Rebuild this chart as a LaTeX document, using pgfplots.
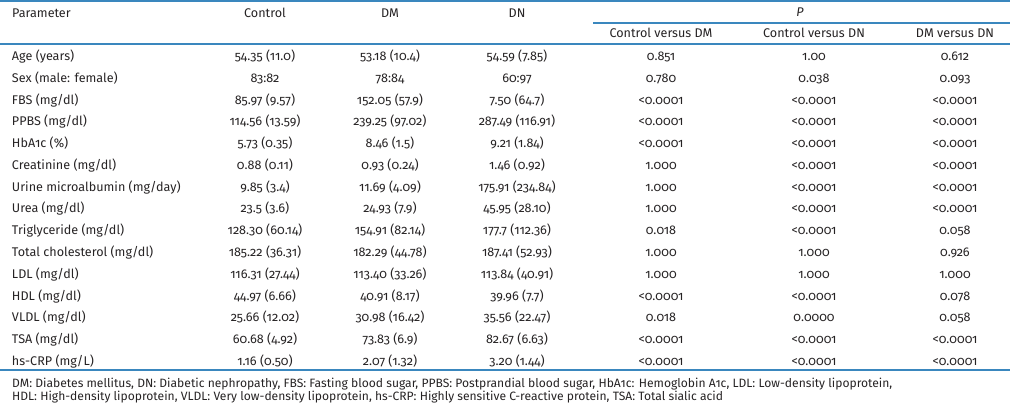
\documentclass[border=0pt]{standalone}
\usepackage{fontspec}
\setmainfont{Fira Sans}[Numbers=OldStyle]
\usepackage{pgfplots}
\usepackage{pgfplotstable}
\pgfplotsset{compat=1.18}
\definecolor{rulec}{HTML}{3A87BE}
\definecolor{txt}{HTML}{262324}
\newcommand{\tf}{\fontsize{12.6}{14}\selectfont}
\newcommand{\ff}{\fontsize{12.1}{14}\selectfont}

\pgfplotstableread[col sep=semicolon]{
y;param;control;dm;dn;pa;pb;pc
60.5;Age (years);54.35 (11.0);53.18 (10.4);54.59 (7.85);0.851;1.00;0.612
82.3;Sex (male: female);83:82;78:84;60:97;0.780;0.038;0.093
104.1;FBS (mg/dl);85.97 (9.57);152.05 (57.9);7.50 (64.7);<0.0001;<0.0001;<0.0001
125.9;PPBS (mg/dl);114.56 (13.59);239.25 (97.02);287.49 (116.91);<0.0001;<0.0001;<0.0001
147.7;HbA1c (\%);5.73 (0.35);8.46 (1.5);9.21 (1.84);<0.0001;<0.0001;<0.0001
169.4;Creatinine (mg/dl);0.88 (0.11);0.93 (0.24);1.46 (0.92);1.000;<0.0001;<0.0001
191.2;Urine microalbumin (mg/day);9.85 (3.4);11.69 (4.09);175.91 (234.84);1.000;<0.0001;<0.0001
213.0;Urea (mg/dl);23.5 (3.6);24.93 (7.9);45.95 (28.10);1.000;<0.0001;<0.0001
234.8;Triglyceride (mg/dl);128.30 (60.14);154.91 (82.14);177.7 (112.36);0.018;<0.0001;0.058
256.6;Total cholesterol (mg/dl);185.22 (36.31);182.29 (44.78);187.41 (52.93);1.000;1.000;0.926
278.4;LDL (mg/dl);116.31 (27.44);113.40 (33.26);113.84 (40.91);1.000;1.000;1.000
300.2;HDL (mg/dl);44.97 (6.66);40.91 (8.17);39.96 (7.7);<0.0001;<0.0001;0.078
322.0;VLDL (mg/dl);25.66 (12.02);30.98 (16.42);35.56 (22.47);0.018;0.0000;0.058
343.8;TSA (mg/dl);60.68 (4.92);73.83 (6.9);82.67 (6.63);<0.0001;<0.0001;<0.0001
365.6;hs-CRP (mg/L);1.16 (0.50);2.07 (1.32);3.20 (1.44);<0.0001;<0.0001;<0.0001
}\datatable

\begin{document}
\begin{tikzpicture}[x=1pt,y=1pt]
\begin{axis}[
  scale only axis, width=1010pt, height=406pt,
  xmin=0, xmax=1010, ymin=0, ymax=406, y dir=reverse,
  hide axis, clip=false,
  every node near coord/.append style={anchor=base, inner sep=0pt, outer sep=0pt, text=txt, font=\tf},
  ]
  % rules
  \addplot[rulec, line width=1.2pt] coordinates {(0,1) (1010,1)};
  \addplot[rulec, line width=1.2pt] coordinates {(593,23) (1010,23)};
  \addplot[rulec, line width=1.2pt] coordinates {(0,44) (1010,44)};
  \addplot[rulec, line width=1.2pt] coordinates {(0,370) (1010,370)};
  % columns
  \addplot[draw=none, mark=none, nodes near coords, point meta=explicit symbolic,
    every node near coord/.append style={anchor=base west}]
    table[x expr=12, y=y, meta=param] {\datatable};
  \addplot[draw=none, mark=none, nodes near coords, point meta=explicit symbolic]
    table[x expr=265, y=y, meta=control] {\datatable};
  \addplot[draw=none, mark=none, nodes near coords, point meta=explicit symbolic]
    table[x expr=390, y=y, meta=dm] {\datatable};
  \addplot[draw=none, mark=none, nodes near coords, point meta=explicit symbolic]
    table[x expr=517, y=y, meta=dn] {\datatable};
  \addplot[draw=none, mark=none, nodes near coords, point meta=explicit symbolic]
    table[x expr=661, y=y, meta=pa] {\datatable};
  \addplot[draw=none, mark=none, nodes near coords, point meta=explicit symbolic]
    table[x expr=814, y=y, meta=pb] {\datatable};
  \addplot[draw=none, mark=none, nodes near coords, point meta=explicit symbolic]
    table[x expr=955, y=y, meta=pc] {\datatable};
  % headers
  \begin{scope}[every node/.style={inner sep=0pt, text=txt, font=\tf}]
  \node[anchor=base west] at (axis cs:12,17.5) {Parameter};
  \node[anchor=base] at (axis cs:265,17.5) {Control};
  \node[anchor=base] at (axis cs:390,17.5) {DM};
  \node[anchor=base] at (axis cs:517,17.5) {DN};
  \node[anchor=base] at (axis cs:800,16.5) {\itshape P};
  \node[anchor=base] at (axis cs:661,37.5) {Control versus DM};
  \node[anchor=base] at (axis cs:814,37.5) {Control versus DN};
  \node[anchor=base] at (axis cs:955,37.5) {DM versus DN};
  \node[anchor=base west, font=\ff] at (axis cs:12,387.5) {DM: Diabetes mellitus, DN: Diabetic nephropathy, FBS: Fasting blood sugar, PPBS: Postprandial blood sugar, HbA1c: Hemoglobin A1c, LDL: Low-density lipoprotein,};
  \node[anchor=base west, font=\ff] at (axis cs:12,400.5) {HDL: High-density lipoprotein, VLDL: Very low-density lipoprotein, hs-CRP: Highly sensitive C-reactive protein, TSA: Total sialic acid};
  \end{scope}
\end{axis}
\pgfresetboundingbox
\path[use as bounding box] (current axis.south west) rectangle (current axis.north east);
\end{tikzpicture}
\end{document}
